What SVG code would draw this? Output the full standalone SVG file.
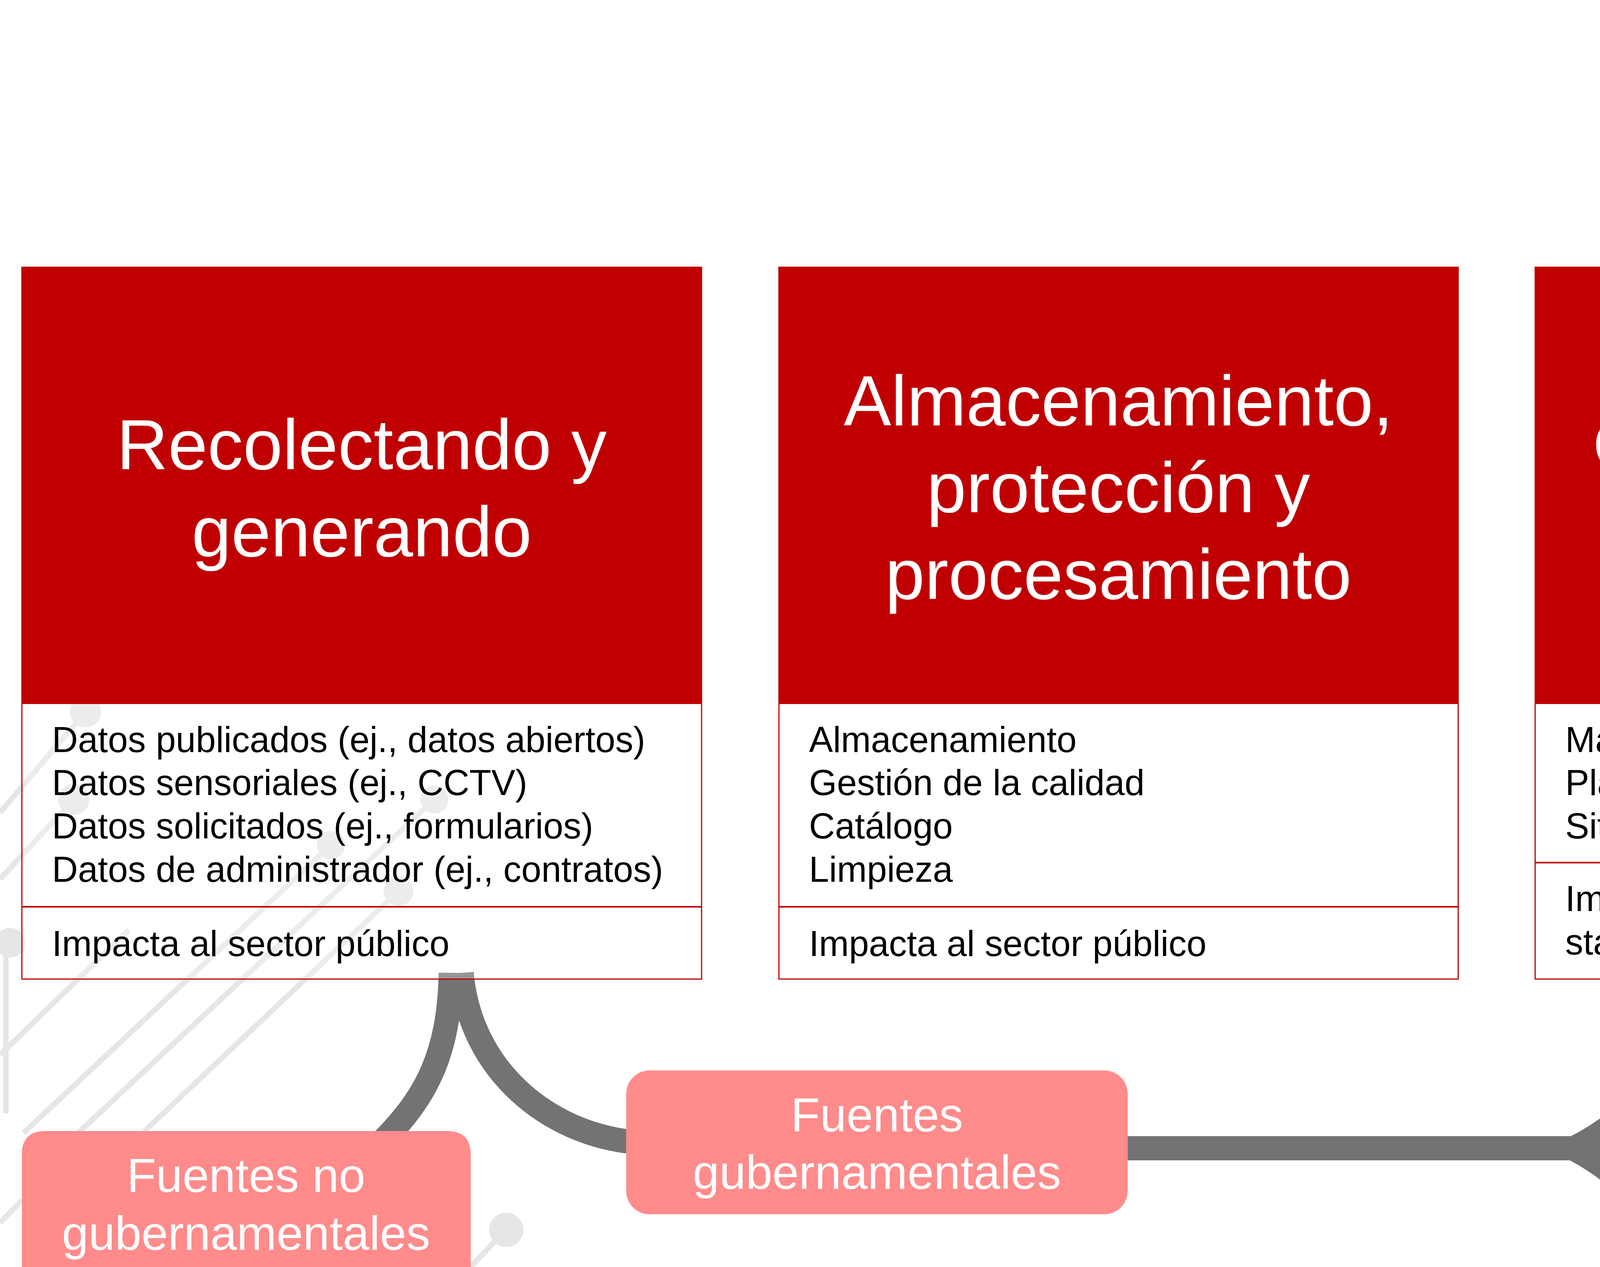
<svg xmlns="http://www.w3.org/2000/svg" width="7552" height="3243" viewBox="0 0 7552 3243">
<style>
.hdr{fill:#C00000}
.body{fill:#ffffff;fill-opacity:0.25;stroke:#C00000;stroke-width:3}
.div{stroke:#C00000;stroke-width:4}
.t{font-family:"Liberation Sans",Arial,sans-serif}
.title{font-size:182px;fill:#ffffff;text-anchor:middle}
.item{font-size:92px;fill:#000000}
.src{fill:#FF8B8B}
.srct{font-size:122px;fill:#ffffff;text-anchor:middle}
.vp{fill:#ffffff;stroke:#C00000;stroke-width:3}
.vpt{font-size:143px;fill:#000000;text-anchor:middle}
.conn{fill:none;stroke:#737373;stroke-width:62}
.head{fill:#737373}
.deco line{stroke:#e6e6e6;stroke-width:14}
.deco circle{fill:#e6e6e6}
</style>
<rect width="7552" height="3243" fill="#ffffff"/>
<g id="decoration" class="deco">
<line x1="0" y1="2080" x2="219" y2="1822"/>
<circle cx="219" cy="1822" r="40"/>
<line x1="0" y1="2250" x2="189" y2="2046"/>
<circle cx="189" cy="2046" r="40"/>
<line x1="60" y1="2900" x2="847" y2="2163"/>
<circle cx="847" cy="2163" r="36"/>
<line x1="200" y1="2900" x2="1112" y2="2046"/>
<circle cx="1112" cy="2046" r="36"/>
<line x1="370" y1="2895" x2="1020" y2="2281"/>
<circle cx="1020" cy="2281" r="38"/>
<line x1="0" y1="2700" x2="330" y2="2380"/>
<line x1="15" y1="2413" x2="15" y2="2850"/>
<circle cx="26" cy="2413" r="38"/>
<line x1="1204" y1="3243" x2="1296" y2="3148"/>
<circle cx="1296" cy="3148" r="44"/>
<line x1="0" y1="3130" x2="56" y2="3072"/>
</g>
<g id="connectors">
<path class="conn" d="M 4841 700 C 4843 430 4980 260 5200 175"/>
<polygon class="head" points="4776,457 4949,535 4935,335"/>
<path class="conn" d="M 6781 700 C 6775 400 6610 270 6370 175"/>
<polygon class="head" points="6812,459 6648,544 6652,350"/>
<path class="conn" d="M 6693 2490 C 6685 2760 6520 2939 6200 2939 L 2850 2939"/>
<path class="conn" d="M 4913 2490 C 4905 2720 4650 2939 4400 2939"/>
<path class="head" d="M 3950 2939 Q 4045 2905 4122 2843 L 4122 3040 Q 4045 2975 3950 2939 Z"/>
<path class="head" d="M 5655 2939 Q 5750 2905 5827 2843 L 5827 3040 Q 5750 2975 5655 2939 Z"/>
<path class="conn" d="M 1182 2490 C 1200 2720 1380 2890 1602 2921 L 1650 2925"/>
<path class="conn" d="M 1154 2490 C 1150 2700 1090 2810 975 2925"/>
</g>
<g id="node-valor-publico">
<rect class="vp" x="5168" y="43" width="1235" height="249"/>
<text class="t vpt" x="5785" y="219">Valor Público</text>
</g>
<g id="node-recolectando">
<rect class="body" x="56" y="684" width="1740" height="1822"/>
<rect class="hdr" x="56" y="684" width="1740" height="1118"/>
<line class="div" x1="56" y1="2321" x2="1796" y2="2321"/>
<text class="t title" x="926" y="1201">Recolectando y</text>
<text class="t title" x="926" y="1424">generando</text>
<text class="t item" x="133" y="1925">Datos publicados (ej., datos abiertos)</text>
<text class="t item" x="133" y="2035">Datos sensoriales (ej., CCTV)</text>
<text class="t item" x="133" y="2146">Datos solicitados (ej., formularios)</text>
<text class="t item" x="133" y="2257">Datos de administrador (ej., contratos)</text>
<text class="t item" x="133" y="2447">Impacta al sector público</text>
</g>
<g id="node-almacenamiento">
<rect class="body" x="1994" y="684" width="1739" height="1822"/>
<rect class="hdr" x="1994" y="684" width="1739" height="1118"/>
<line class="div" x1="1994" y1="2321" x2="3733" y2="2321"/>
<text class="t title" x="2863" y="1089">Almacenamiento,</text>
<text class="t title" x="2863" y="1311">protección y</text>
<text class="t title" x="2863" y="1533">procesamiento</text>
<text class="t item" x="2071" y="1925">Almacenamiento</text>
<text class="t item" x="2071" y="2035">Gestión de la calidad</text>
<text class="t item" x="2071" y="2146">Catálogo</text>
<text class="t item" x="2071" y="2257">Limpieza</text>
<text class="t item" x="2071" y="2447">Impacta al sector público</text>
</g>
<g id="node-compartir">
<rect class="body" x="3930" y="684" width="1741" height="1822"/>
<rect class="hdr" x="3930" y="684" width="1741" height="1118"/>
<line class="div" x1="3930" y1="2208" x2="5671" y2="2208"/>
<text class="t title" x="4800" y="1201">Compartir, curar y</text>
<text class="t title" x="4800" y="1424">publicar</text>
<text class="t item" x="4007" y="1925">Manejar solicitudes y acuerdos</text>
<text class="t item" x="4007" y="2035">Plataformas de intercambio de datos</text>
<text class="t item" x="4007" y="2146">Sitios web de datos abiertos</text>
<text class="t item" x="4007" y="2332">Impacta al sector público y</text>
<text class="t item" x="4007" y="2443">stakeholders públicas</text>
</g>
<g id="node-usar">
<path class="body" d="M 7552 684 L 5866 684 L 5866 2506 L 7552 2506"/>
<rect class="hdr" x="5866" y="684" width="1686" height="781"/>
<line class="div" x1="5866" y1="2208" x2="7552" y2="2208"/>
<text class="t title" x="6738" y="1143">Usar y reutilizar</text>
<text class="t item" x="5943" y="1588">Análisis estadístico</text>
<text class="t item" x="5943" y="1699">Aprendizaje automático</text>
<text class="t item" x="5943" y="1810">Visualización</text>
<text class="t item" x="5943" y="1920">Decisiones sobre políticas y servicios</text>
<text class="t item" x="5943" y="2031">Decisiones de vida</text>
<text class="t item" x="5943" y="2142">Rendimiento de insights</text>
<text class="t item" x="5943" y="2332">Impacta al sector público y</text>
<text class="t item" x="5943" y="2443">stakeholders públicas</text>
</g>
<g id="node-fuentes-gubernamentales">
<rect class="src" x="1603" y="2740" width="1284" height="368" rx="60" ry="60"/>
<text class="t srct" x="2245" y="2896">Fuentes</text>
<text class="t srct" x="2245" y="3043">gubernamentales</text>
</g>
<g id="node-fuentes-no-gubernamentales">
<path class="src" d="M 56 3243 L 56 2955 Q 56 2895 116 2895 L 1145 2895 Q 1205 2895 1205 2955 L 1205 3243 Z"/>
<text class="t srct" x="630" y="3051">Fuentes no</text>
<text class="t srct" x="630" y="3199">gubernamentales</text>
</g>
</svg>
